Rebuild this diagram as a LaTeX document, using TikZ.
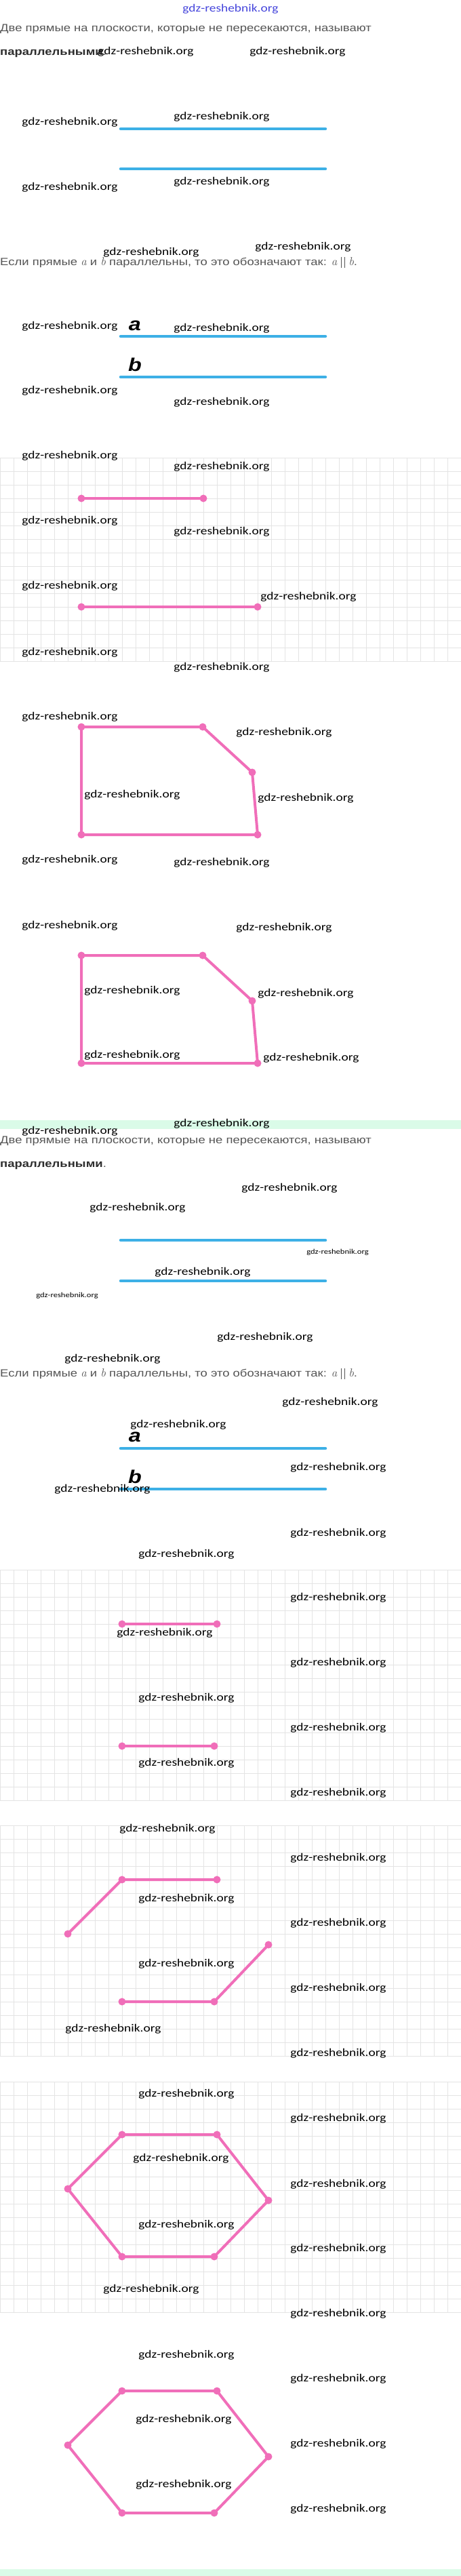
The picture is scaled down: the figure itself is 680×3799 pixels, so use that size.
\documentclass[tikz,border=0pt]{standalone}
\usepackage{fontspec}
\usepackage{amsmath}
\usetikzlibrary{positioning}
\newfontfamily\txtfont[FakeStretch=1.2]{Liberation Sans}
\newfontfamily\wmfont[FakeStretch=1.2]{Carlito}
\newfontfamily\lmfont{Latin Modern Roman}
\newcommand{\mvar}[1]{{\lmfont\itshape\fontsize{17}{18}\selectfont #1}}
\newcommand{\parbars}{\hspace{6pt}\rule[-3pt]{0.5pt}{16pt}\hspace{4pt}\rule[-3pt]{0.5pt}{16pt}\hspace{6pt}}
\definecolor{lineblue}{RGB}{61,176,230}
\definecolor{segpink}{RGB}{240,110,185}
\definecolor{barmint}{RGB}{218,251,232}
\definecolor{textgrey}{RGB}{85,85,85}
\definecolor{boldgrey}{RGB}{45,45,45}
\definecolor{gridgrey}{RGB}{228,228,228}
\definecolor{headblue}{RGB}{70,70,220}

\tikzset{
  wmark/.style={inner sep=0pt, font=\wmfont\fontsize{16.2}{18}\selectfont},
  smallwmark/.style={inner sep=0pt, font=\wmfont\fontsize{10.5}{12}\selectfont},
  bodytext/.style={anchor=west, inner sep=0pt, text=textgrey, font=\txtfont\fontsize{15.4}{18}\selectfont},
  letterlabel/.style={inner sep=0pt, font=\txtfont\bfseries\itshape\fontsize{27}{30}\selectfont},
  pdot/.style={circle, fill=segpink, inner sep=0pt, minimum size=11pt},
  pline/.style={segpink, line width=4pt, line join=round},
  bline/.style={lineblue, line width=4.5pt, line cap=round},
  gridline/.style={gridgrey, line width=0.8pt},
}

\newcommand{\cellgrid}[2]{%
  \pgfmathtruncatemacro\gnext{#1+20}
  \foreach \gy in {#1,\gnext,...,#2} \draw[gridline] (0,\gy) -- (680,\gy);
  \foreach \gx in {0,20,...,680} \draw[gridline] (\gx,#1) -- (\gx,#2);
}

\begin{document}
\begin{tikzpicture}[x=1pt, y=-1pt]
\fill[white] (0,0) rectangle (680,3799);
\useasboundingbox (0,0) rectangle (680,3799);

\fill[barmint] (0,1652) rectangle (680,1665);
\fill[barmint] (0,3789) rectangle (680,3799);

\cellgrid{675}{975}
\cellgrid{2315}{2655}
\cellgrid{2692}{3032}
\cellgrid{3070}{3410}

\node[bodytext] (t1) at (0,43) {Две прямые на плоскости, которые не пересекаются, называют};
\node[bodytext] (t2) at (0,79) {\textcolor{boldgrey}{\bfseries параллельными}.};
\node[bodytext] (t3) at (0,387) {Если прямые \mvar{a} и \mvar{b} параллельны, то это обозначают так: \mvar{a}\parbars\mvar{b}.};
\node[bodytext] (t4) at (0,1683) {Две прямые на плоскости, которые не пересекаются, называют};
\node[bodytext] (t5) at (0,1719) {\textcolor{boldgrey}{\bfseries параллельными}.};
\node[bodytext] (t6) at (0,2026) {Если прямые \mvar{a} и \mvar{b} параллельны, то это обозначают так: \mvar{a}\parbars\mvar{b}.};

\foreach \ly [count=\li] in {190,249,496,556,1829,1889,2136,2196} {
  \coordinate (bl\li) at (178,\ly);
  \coordinate (br\li) at (480,\ly);
  \draw[bline] (bl\li) -- (br\li);
}
\node[letterlabel] (la1) at (199,480) {a};
\node[letterlabel] (lb1) at (199,538) {b};
\node[letterlabel] (la2) at (199,2119) {a};
\node[letterlabel] (lb2) at (199,2178) {b};

\node[pdot] (s1a) at (120,735) {};
\node[pdot] (s1b) at (300,735) {};
\node[pdot] (s2a) at (120,895) {};
\node[pdot] (s2b) at (380,895) {};
\draw[pline] (s1a.center) -- (s1b.center);
\draw[pline] (s2a.center) -- (s2b.center);

\foreach \py [count=\pi] in {1072,1409} {
  \node[pdot] (p\pi a) at (120,\py) {};
  \node[pdot] (p\pi b) at (299,\py) {};
  \node[pdot] (p\pi c) at (372,\py+67) {};
  \node[pdot] (p\pi d) at (380,\py+159) {};
  \node[pdot] (p\pi e) at (120,\py+159) {};
  \draw[pline] (p\pi a.center) -- (p\pi b.center) -- (p\pi c.center) -- (p\pi d.center) -- (p\pi e.center) -- cycle;
}

\node[pdot] (s3a) at (180,2395) {};
\node[pdot] (s3b) at (320,2395) {};
\node[pdot] (s4a) at (180,2575) {};
\node[pdot] (s4b) at (316,2575) {};
\draw[pline] (s3a.center) -- (s3b.center);
\draw[pline] (s4a.center) -- (s4b.center);

\node[pdot] (k1) at (100,2852) {};
\node[pdot] (k2) at (180,2772) {};
\node[pdot] (k3) at (320,2772) {};
\node[pdot] (k4) at (180,2952) {};
\node[pdot] (k5) at (316,2952) {};
\node[pdot] (k6) at (396,2868) {};
\draw[pline] (k1.center) -- (k2.center) -- (k3.center);
\draw[pline] (k4.center) -- (k5.center) -- (k6.center);

\foreach \hy [count=\hi] in {3148,3526} {
  \node[pdot] (h\hi a) at (180,\hy) {};
  \node[pdot] (h\hi b) at (320,\hy) {};
  \node[pdot] (h\hi c) at (396,\hy+97) {};
  \node[pdot] (h\hi d) at (316,\hy+180) {};
  \node[pdot] (h\hi e) at (180,\hy+180) {};
  \node[pdot] (h\hi f) at (100,\hy+80) {};
  \draw[pline] (h\hi a.center) -- (h\hi b.center) -- (h\hi c.center) -- (h\hi d.center) -- (h\hi e.center) -- (h\hi f.center) -- cycle;
}

\node[wmark, text=headblue] (head) at (340,13) {gdz-reshebnik.org};
\foreach \wx/\wy [count=\wi] in {215/76, 439/76, 103/180, 327/172, 103/276, 327/268, 223/372, 447/364,
  103/481, 327/484, 103/576, 327/593, 103/672, 327/688, 103/768, 327/784, 103/864, 455/880,
  103/962, 327/984, 103/1057, 419/1080, 195/1172, 451/1177, 103/1268, 327/1272, 103/1365, 419/1368,
  195/1461, 451/1465, 195/1556, 459/1560, 327/1657, 103/1668, 427/1752, 203/1781, 299/1876,
  391/1972, 166/2004, 487/2068, 263/2101, 499/2164, 151/2196, 499/2261, 275/2292, 499/2356,
  243/2408, 499/2452, 275/2504, 499/2548, 275/2600, 499/2644, 247/2697, 499/2740, 275/2800,
  499/2836, 275/2896, 499/2932, 167/2992, 499/3028, 275/3088, 499/3124, 267/3183, 499/3221,
  275/3281, 499/3316, 223/3376, 499/3412, 275/3473, 499/3508, 271/3568, 499/3604, 271/3664, 499/3700}
  \node[wmark] (wm\wi) at (\wx,\wy) {gdz-reshebnik.org};
\node[smallwmark] (sw1) at (498,1847) {gdz-reshebnik.org};
\node[smallwmark] (sw2) at (99,1911) {gdz-reshebnik.org};
\end{tikzpicture}
\end{document}
